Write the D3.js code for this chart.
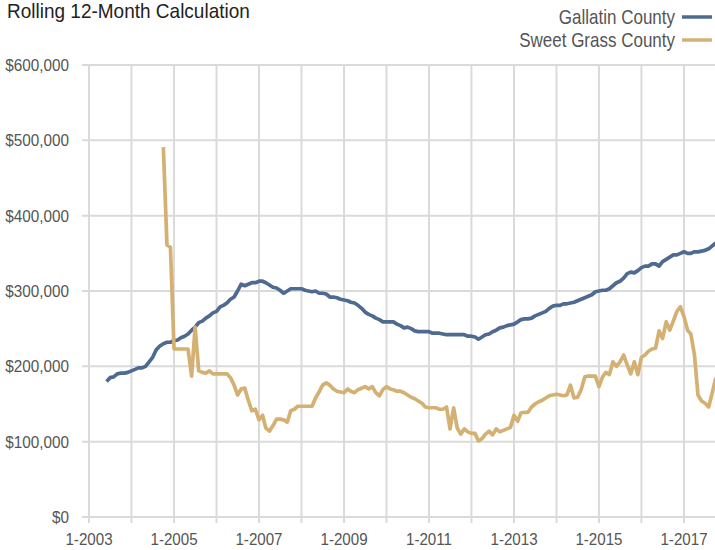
<!DOCTYPE html>
<html>
<head>
<meta charset="utf-8">
<script src="https://cdn.jsdelivr.net/npm/d3@7"></script>
<style>
html,body{margin:0;padding:0;background:#fff;overflow:hidden;}
svg{display:block;}
text{font-family:"Liberation Sans",Arial,sans-serif;}
</style>
</head>
<body>
<svg id="chart" width="715" height="550"></svg>
<script>
// ---- data (values in thousands of dollars, monthly) ----
const titleText = "Rolling 12-Month Calculation";
const seriesNames = ["Gallatin County", "Sweet Grass County"];
const seriesColors = ["#4f6a91", "#d4b172"];

const gallatinStart = [2003, 5]; // June 2003 (year, monthIndex)
const gallatinValues = [
180,185,186,190,191,191,192,194,196,198,198,200,206,212,222,227,230,232,232,234,
235,238,240,243,248,252,258,260,264,267,271,273,279,281,284,289,292,300,309,307,
309,311,311,313,313,311,308,305,304,301,297,300,303,303,303,303,301,300,299,300,
297,297,296,292,292,291,289,288,287,285,284,281,277,272,269,267,264,262,259,259,
259,259,256,254,251,252,250,247,246,246,246,246,244,244,244,243,242,242,242,242,
242,242,240,240,239,236,239,242,243,246,248,251,252,254,255,256,259,262,263,263,
264,267,269,271,273,277,280,281,281,283,283,284,285,287,289,291,293,295,299,300,
301,301,303,307,311,313,317,323,325,324,327,331,333,333,336,336,333,339,342,345,
348,348,350,352,350,350,352,352,353,354,356,360,364];

const sweetGrassStart = [2004, 9]; // October 2004
const sweetGrassValues = [
491,361,358,223,223,223,223,223,187,252,194,192,191,194,190,190,190,190,190,185,
175,162,170,171,155,141,143,129,135,118,114,121,130,130,129,126,141,143,147,147,
147,147,147,158,166,175,178,175,170,167,166,165,170,167,165,169,171,173,170,173,
165,161,169,173,170,169,167,167,165,162,159,157,154,151,146,145,145,145,143,143,
146,117,145,118,110,117,113,111,111,101,104,110,114,109,117,113,115,117,119,135,
127,138,139,139,146,150,153,155,158,161,162,163,162,161,162,175,158,159,169,186,
187,187,187,173,186,192,189,206,200,206,215,202,190,206,189,212,215,220,223,224,
247,237,259,248,260,273,279,266,248,243,215,162,154,151,146,165,185];

const yTicks = [0, 100, 200, 300, 400, 500, 600];
const xLabelYears = [2003, 2005, 2007, 2009, 2011, 2013, 2015, 2017];
const xGridYears = d3.range(2003, 2018);

function toSeries(start, values) {
  return values.map((v, i) => ({ date: new Date(start[0], start[1] + i, 1), value: v }));
}
const series = [toSeries(gallatinStart, gallatinValues), toSeries(sweetGrassStart, sweetGrassValues)];

// ---- layout ----
const svg = d3.select("#chart");
const x = d3.scaleTime().domain([new Date(2003, 0, 1), new Date(2017, 0, 1)]).range([89, 684]);
const y = d3.scaleLinear().domain([0, 600]).range([517, 65]);
const gridColor = "#dadada";
const labelColor = "#555";

// condensed text helper (horizontal squeeze to mimic a condensed face)
function condensed(sel, px, py, sx) {
  return sel.attr("x", 0).attr("y", 0)
    .attr("transform", (d, i) => {
      const X = typeof px === "function" ? px(d, i) : px;
      const Y = typeof py === "function" ? py(d, i) : py;
      return `translate(${X},${Y}) scale(${sx},1)`;
    });
}

// horizontal gridlines
svg.append("g").selectAll("line").data(yTicks).join("line")
  .attr("x1", 82).attr("x2", 715)
  .attr("y1", d => y(d)).attr("y2", d => y(d))
  .attr("stroke", gridColor).attr("stroke-width", 2);

// vertical gridlines
svg.append("g").selectAll("line").data(xGridYears).join("line")
  .attr("x1", d => x(new Date(d, 0, 1))).attr("x2", d => x(new Date(d, 0, 1)))
  .attr("y1", y(600)).attr("y2", y(0) + 6)
  .attr("stroke", gridColor).attr("stroke-width", 2);

// y labels
const fmt = d3.format(",");
condensed(svg.append("g").selectAll("text").data(yTicks).join("text"), 69, d => y(d), 0.9)
  .attr("dy", "0.35em")
  .attr("text-anchor", "end").attr("fill", labelColor)
  .style("font-size", "17px")
  .text(d => "$" + fmt(d * 1000));

// x labels
condensed(svg.append("g").selectAll("text").data(xLabelYears).join("text"), d => x(new Date(d, 0, 1)), 545, 0.89)
  .attr("text-anchor", "middle").attr("fill", labelColor)
  .style("font-size", "17px")
  .text(d => "1-" + d);

// lines
const line = d3.line().x(d => x(d.date)).y(d => y(d.value));
svg.append("g").selectAll("path").data(series).join("path")
  .attr("d", line).attr("fill", "none")
  .attr("stroke", (d, i) => seriesColors[i])
  .attr("stroke-width", 3.7)
  .attr("stroke-linejoin", "round");

// title
condensed(svg.append("text"), 7, 17.5, 0.95)
  .attr("fill", "#222").style("font-size", "20px")
  .text(titleText);

// legend
const legend = svg.append("g").selectAll("g").data(seriesNames).join("g")
  .attr("transform", (d, i) => `translate(0,${17 + i * 23})`);
condensed(legend.append("text"), 675, 0, 0.85).attr("dy", "0.35em")
  .attr("text-anchor", "end").attr("fill", labelColor).style("font-size", "20px")
  .text(d => d);
legend.append("line").attr("x1", 682).attr("x2", 712).attr("y1", 0).attr("y2", 0)
  .attr("stroke", (d, i) => seriesColors[i]).attr("stroke-width", 3.5);
</script>
</body>
</html>
